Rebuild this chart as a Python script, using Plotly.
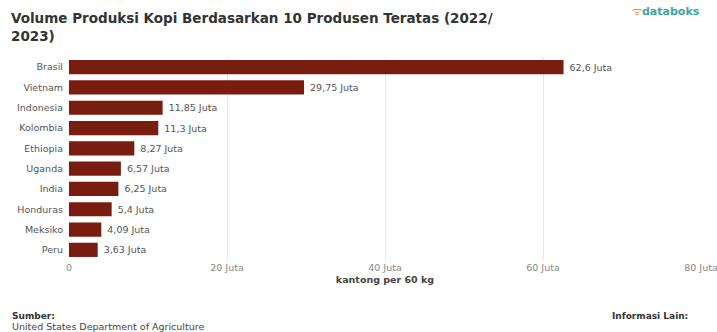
import plotly.graph_objects as go

countries = ["Brasil", "Vietnam", "Indonesia", "Kolombia", "Ethiopia", "Uganda", "India", "Honduras", "Meksiko", "Peru"]
values = [62.6, 29.75, 11.85, 11.3, 8.27, 6.57, 6.25, 5.4, 4.09, 3.63]
value_labels = ["62,6 Juta", "29,75 Juta", "11,85 Juta", "11,3 Juta", "8,27 Juta", "6,57 Juta", "6,25 Juta", "5,4 Juta", "4,09 Juta", "3,63 Juta"]
tick_vals = [0, 20, 40, 60, 80]
tick_text = ["0", "20 Juta", "40 Juta", "60 Juta", "80 Juta"]

L, R, T, B = 69, 16, 57, 72
W, H = 717, 332
PW, PH = W - L - R, H - T - B
FONT = "DejaVu Sans"

def px(x):
    return (x - L) / PW

def py(y):
    return (H - B - y) / PH

fig = go.Figure(go.Bar(
    x=values, y=countries, orientation="h",
    marker=dict(color="#7A1D11", line=dict(width=0)),
    text=value_labels, texttemplate=" %{text}", textposition="outside",
    textfont=dict(family=FONT, size=9.5, color="#555555"),
    cliponaxis=False, width=0.7,
))

fig.update_layout(
    width=W, height=H,
    margin=dict(l=L, r=R, t=T, b=B, autoexpand=False),
    paper_bgcolor="white", plot_bgcolor="white",
    showlegend=False,
    xaxis=dict(range=[0, 80], tickvals=tick_vals, ticktext=tick_text, automargin=False,
               ticklabeloverflow="allow",
               showgrid=True, gridcolor="#e6e6e6", gridwidth=1, zeroline=False,
               tickfont=dict(family=FONT, size=9.5, color="#888888"),
               title=dict(text="<b>kantong per 60 kg</b>", font=dict(family=FONT, size=9.5, color="#444444"), standoff=4),
               fixedrange=True),
    yaxis=dict(autorange="reversed", showgrid=False, automargin=False,
               tickfont=dict(family=FONT, size=9.5, color="#555555"),
               ticks="", ticklabelstandoff=5),
    font=dict(family=FONT),
)

fig.add_annotation(text="<b>Volume Produksi Kopi Berdasarkan 10 Produsen Teratas (2022/<br>2023)</b>",
                   xref="paper", yref="paper", x=px(9), y=py(8), xanchor="left", yanchor="top",
                   showarrow=False, align="left",
                   font=dict(family=FONT, size=13.5, color="#333333"))
fig.add_annotation(text="<span style='color:#f08a3c'>ᯤ</span><b>databoks</b>",
                   xref="paper", yref="paper", x=px(702), y=py(12), xanchor="right", yanchor="middle",
                   showarrow=False, font=dict(family=FONT, size=11, color="#3aa6a0"))
fig.add_annotation(text="<b>Sumber:</b>",
                   xref="paper", yref="paper", x=px(10), y=py(316), xanchor="left", yanchor="middle",
                   showarrow=False, align="left",
                   font=dict(family=FONT, size=9, color="#333333"))
fig.add_annotation(text="United States Department of Agriculture",
                   xref="paper", yref="paper", x=px(10), y=py(326), xanchor="left", yanchor="middle",
                   showarrow=False, align="left",
                   font=dict(family=FONT, size=9.5, color="#444444"))
fig.add_annotation(text="<b>Informasi Lain:</b>",
                   xref="paper", yref="paper", x=px(610), y=py(316), xanchor="left", yanchor="middle",
                   showarrow=False, align="left",
                   font=dict(family=FONT, size=9, color="#333333"))

fig.write_html("out.html")
